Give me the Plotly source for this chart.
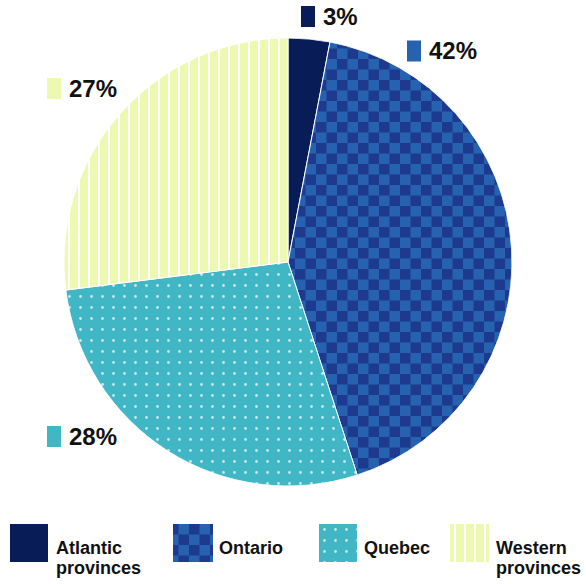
import plotly.graph_objects as go

# ---- data ----
regions = ["Atlantic provinces", "Ontario", "Quebec", "Western provinces"]
shares = [3, 42, 28, 27]
legend_lines = [["Atlantic", "provinces"], ["Ontario"], ["Quebec"], ["Western", "provinces"]]

# ---- styling ----
W, H = 586, 584
FONT = "Liberation Sans"
NAVY = "#081d58"
BLUE_DARK = "#1d3a8f"
BLUE_LIGHT = "#2762b0"
TEAL = "#41b6c4"
PALE = "#edf8b1"
DOT = "#c4eaef"

slice_colors = [NAVY, BLUE_LIGHT, TEAL, PALE]

# checkerboard tile path (plotly shrinks custom pattern paths a little)
CELL = 10.5
checker = f"M0,0H{CELL}V{CELL}H0Z M{CELL},{CELL}H{2*CELL}V{2*CELL}H{CELL}Z"

# per-region fill pattern (shape or custom path, tile size, solidity, fg, bg)
fills = [
    dict(shape="", path="", size=10, solidity=0.3, fg=NAVY, bg=NAVY),
    dict(shape="", path=checker, size=2 * CELL, solidity=0.5, fg=BLUE_DARK, bg=BLUE_LIGHT),
    dict(shape=".", path="", size=11, solidity=0.05, fg=DOT, bg=TEAL),
    dict(shape="|", path="", size=10, solidity=0.2, fg="#ffffff", bg=PALE),
]


def make_pattern(f):
    pat = dict(fillmode="replace", size=f["size"], solidity=f["solidity"],
               fgcolor=f["fg"], bgcolor=f["bg"])
    if f["path"]:
        pat["path"] = f["path"]
    elif f["shape"]:
        pat["shape"] = f["shape"]
    return pat


def px(x):
    return x / W


def py(y):
    return 1 - y / H


fig = go.Figure()

# pie wedges as polar bars: angular span proportional to each share,
# starting at 12 o'clock and running clockwise
total = sum(shares)
start = 0.0
for name, v, col, f in zip(regions, shares, slice_colors, fills):
    span = 360.0 * v / total
    fig.add_trace(go.Barpolar(
        r=[1], base=[0], theta=[start + span / 2], width=[span], name=name,
        marker=dict(color=col, line=dict(color="#ffffff", width=1), pattern=make_pattern(f)),
        hoverinfo="skip", showlegend=False, subplot="polar",
    ))
    start += span

# legend swatches: one patterned bar per region on a hidden pixel-scaled axis
swatch_x = [29, 193, 338, 469.5]
swatch_w = [38, 40, 38, 39]
for name, col, f, sx, sw in zip(regions, slice_colors, fills, swatch_x, swatch_w):
    fig.add_trace(go.Bar(
        x=[sx], y=[1], width=[sw], name=name,
        marker=dict(color=col, line=dict(width=0), pattern=make_pattern(f)),
        hoverinfo="skip", showlegend=False,
    ))

# legend texts
legend_text_x = [54, 217, 362, 494]
annotations = []
for lines, lx in zip(legend_lines, legend_text_x):
    for i, line in enumerate(lines):
        annotations.append(dict(
            x=px(lx), y=py(548 + 20 * i), xref="paper", yref="paper",
            xanchor="left", yanchor="middle", showarrow=False, text=line,
            font=dict(family=FONT, size=18, color="#111111", weight="bold"),
        ))

# percentage labels with small colour markers (text x, text y, marker x)
label_pos = [(321, 16.5, 301), (427, 51, 407), (67, 436.5, 47), (67, 88.5, 47)]
shapes = []
for v, col, (tx, ty, sx) in zip(shares, slice_colors, label_pos):
    annotations.append(dict(
        x=px(tx), y=py(ty), xref="paper", yref="paper",
        xanchor="left", yanchor="middle", showarrow=False, text=f"{v}%",
        font=dict(family=FONT, size=24, color="#111111", weight="bold"),
    ))
    shapes.append(dict(
        type="rect", xref="paper", yref="paper",
        x0=px(sx), x1=px(sx + 14), y0=py(ty + 10.5), y1=py(ty - 10.5),
        fillcolor=col, line=dict(width=0),
    ))

fig.update_layout(
    width=W, height=H,
    margin=dict(l=0, r=0, t=0, b=0),
    paper_bgcolor="#ffffff",
    plot_bgcolor="rgba(0,0,0,0)",
    polar=dict(
        domain=dict(x=[px(64), px(512)], y=[py(486), py(38)]),
        bgcolor="rgba(0,0,0,0)",
        hole=0,
        bargap=0,
        angularaxis=dict(rotation=90, direction="clockwise", visible=False,
                         showgrid=False, showline=False, showticklabels=False, ticks=""),
        radialaxis=dict(range=[0, 1], visible=False, showgrid=False,
                        showline=False, showticklabels=False, ticks=""),
    ),
    xaxis=dict(range=[0, W], domain=[0, 1], visible=False, fixedrange=True),
    yaxis=dict(range=[0, 1], domain=[py(562), py(524)], visible=False, fixedrange=True),
    bargap=0,
    annotations=annotations,
    shapes=shapes,
    showlegend=False,
)

fig.write_html("out.html")
